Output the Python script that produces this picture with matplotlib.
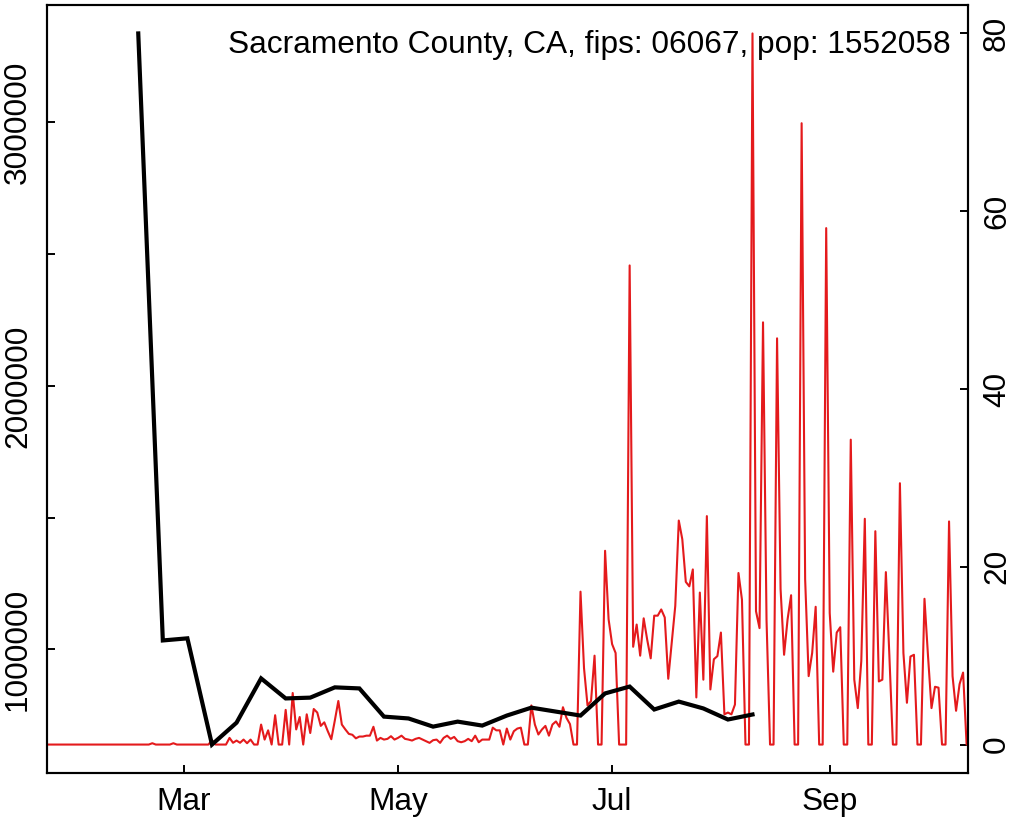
import matplotlib
matplotlib.use("Agg")
import matplotlib.pyplot as plt
import matplotlib.dates as mdates
import numpy as np
import pandas as pd

# ---------------- data ----------------
title_text = "Sacramento County, CA, fips: 06067, pop: 1552058"

red_start = "2020-01-22"
red_values = (
    [0.0] * 30 + [0.15] + [0.0] * 5 + [0.15] + [0.0] * 10 +            # d0..46
    [0.5, 0, 0, 0, 0, 0.75, 0.2, 0.45, 0.2, 0.56, 0.15, 0.56, 0, 0,      # d47..60
     2.25, 0.56, 1.6, 0, 3.3, 0, 0, 3.9, 0, 5.8, 1.7, 3.1, 0, 3.4,       # d61..74
     1.3, 4.0, 3.6, 2.1, 2.5, 1.5, 0.6, 2.7, 4.9, 2.25, 1.7, 1.2, 1.1,   # d75..87
     0.7, 0.9, 0.9, 1.0, 1.0, 2.0, 0.45, 0.75, 0.56, 0.64, 0.94, 0.56,   # d88..99
     0.75, 1.0, 0.64, 0.56, 0.45, 0.64, 0.75, 0.56, 0.38, 0.19, 0.49,    # d100..110
     0.56, 0.19, 0.75, 1.0, 0.64, 0.86, 0.38, 0.26, 0.38, 0.64, 0.38,    # d111..121
     1.0, 0.26, 0.56, 0.56, 0.56, 1.9, 1.6, 1.6, 0, 1.8, 0.56, 1.5,      # d122..133
     1.8, 1.9, 0, 0, 4.4, 2.25, 1.13, 1.69, 2.1, 1.0, 2.25, 2.6, 2.0,    # d134..146
     4.2, 3.0, 2.3, 0, 0, 17.2, 8.6, 4.4, 4.9, 10.0, 0, 0, 21.8, 14.1,   # d147..160
     11.3, 10.3, 0, 0, 0, 53.9, 11.0, 13.5, 10.0, 14.2, 11.8, 9.7,       # d161..172
     14.5, 14.5, 15.2, 14.3, 7.4, 11.5, 15.6, 25.2, 23.1, 18.3, 17.8,    # d173..183
     19.7, 5.3, 17.1, 7.3, 25.7, 6.2, 9.6, 9.95, 12.6, 3.4, 3.6, 3.4,    # d184..195
     4.5, 19.3, 16.3, 0, 0, 80.0, 15.0, 13.1, 47.5, 14.0, 0, 0, 45.7,    # d196..208
     17.5, 10.1, 14.1, 16.8, 0, 0, 69.9, 18.6, 7.7, 10.3, 15.5, 0, 0,    # d209..221
     58.1, 14.8, 8.2, 12.6, 13.2, 0, 0, 34.3, 7.3, 4.1, 9.4, 25.4, 0,    # d222..234
     0, 24.0, 7.1, 7.3, 19.4, 10.0, 0, 0, 29.4, 10.3, 4.7, 9.9, 10.1,    # d235..247
     0, 0, 16.4, 10.0, 4.1, 6.5, 6.4, 0, 0, 25.1, 7.7, 3.8, 6.8, 8.1,    # d248..261
     0, 0]                                                               # d262..263
)

black_start = "2020-02-17"
black_values = [3337000, 1034000, 1042000, 639000, 722000, 890000, 814000,
                817000, 856000, 852000, 745000, 738000, 707000, 726000,
                711000, 749000, 779000, 764000, 749000, 833000, 859000,
                772000, 802000, 776000, 734000, 753000]

month_ticks = ["2020-03-01", "2020-05-01", "2020-07-01", "2020-09-01"]
month_labels = ["Mar", "May", "Jul", "Sep"]
left_ticks = [1000000, 1500000, 2000000, 2500000, 3000000]
left_labels = ["1000000", "", "2000000", "", "3000000"]
right_ticks = [0, 20, 40, 60, 80]
right_labels = ["0", "20", "40", "60", "80"]

# ---------------- figure ----------------
plt.rcParams["font.family"] = ["Liberation Sans", "DejaVu Sans"]
FS = 22.8
W, H = 1015, 822
fig = plt.figure(figsize=(W / 100, H / 100), dpi=100)
L, R, T, B = 47, 968, 5, 773
ax = fig.add_axes([L / W, 1 - B / H, (R - L) / W, (B - T) / H])
ax2 = ax.twinx()

red_dates = pd.date_range(red_start, periods=len(red_values), freq="D")
black_dates = pd.date_range(black_start, periods=len(black_values), freq="7D")

ax.plot(black_dates, black_values, color="black", lw=3.0, solid_joinstyle="miter", zorder=3)
ax2.plot(red_dates, red_values, color="#E41A1C", lw=1.5, zorder=2)
ax.set_zorder(ax2.get_zorder() + 1)
ax.patch.set_visible(False)

bmin, bmax = min(black_values), max(black_values)
pad = 0.04 * (bmax - bmin)
ax.set_ylim(bmin - pad, bmax + pad)
rmin, rmax = min(red_values), max(red_values)
rpad = 0.04 * (rmax - rmin)
ax2.set_ylim(rmin - rpad, rmax + rpad)

x0 = pd.Timestamp(red_start)
ax.set_xlim(x0, x0 + pd.Timedelta(days=262.4))

ax.set_xticks(pd.to_datetime(month_ticks))
ax.set_xticklabels(month_labels)
ax.set_yticks(left_ticks)
ax.set_yticklabels(left_labels, rotation=90, va="center")
ax2.set_yticks(right_ticks)
ax2.set_yticklabels(right_labels, rotation=90, va="center")

for a in (ax, ax2):
    a.tick_params(direction="in", length=5.8, width=1.4, labelsize=FS, pad=10)
    for s in a.spines.values():
        s.set_linewidth(1.5)

ax.text((951 - L) / (R - L), (B - 45) / (B - T), title_text, transform=ax.transAxes,
        ha="right", va="center", fontsize=FS)

fig.savefig("out.png", dpi=100)
